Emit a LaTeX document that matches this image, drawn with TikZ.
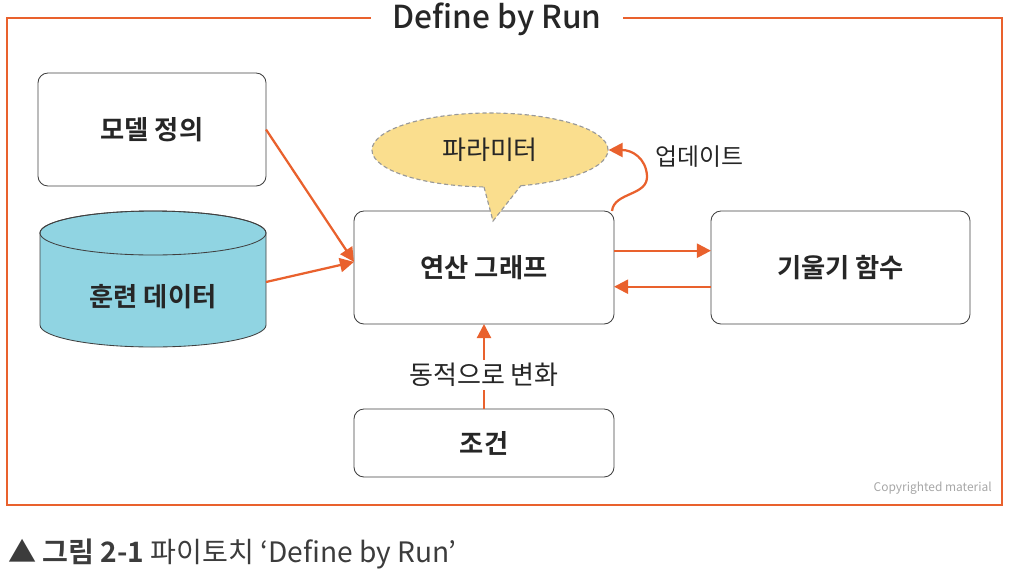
\documentclass[tikz,border=0pt]{standalone}
\usepackage{fontspec}
\setmainfont{Noto Sans CJK KR}[BoldFont={Noto Sans CJK KR Bold}]
\newfontfamily\krmed{Noto Sans CJK KR Medium}
\usetikzlibrary{arrows.meta,shapes.geometric}
\definecolor{runorange}{RGB}{233,97,45}
\definecolor{cylblue}{RGB}{144,212,226}
\definecolor{bubbleyellow}{RGB}{250,222,142}
\definecolor{captiongray}{RGB}{60,60,60}
\begin{document}
\begin{tikzpicture}[x=0.025cm,y=-0.025cm,
  every node/.style={font=\fontsize{18.5}{22}\selectfont,text=black!85},
  box/.style={draw=black!75,line width=0.6pt,rounded corners=0.25cm,minimum height=2.825cm,inner sep=0pt,outer sep=0pt,font=\fontsize{18.7}{22}\bfseries},
  flow/.style={draw=runorange,line width=1.6pt,-{Triangle[length=10pt,width=10pt]}}]
\useasboundingbox (0,0) rectangle (1010,572);
\draw[runorange,line width=1.4pt] (7,18) rectangle (1002,505);
\node[fill=white,anchor=base,inner xsep=0.55cm,font=\fontsize{22.5}{27}\krmed] (title) at (497,28) {Define by Run};
\node[box,minimum width=5.7cm] (model) at (152,129.5) {모델 정의};
\path[fill=cylblue,draw=black!75,line width=0.6pt] (40,233) -- (40,325) arc[start angle=180,end angle=360,x radius=2.825cm,y radius=0.55cm] -- (266,233) arc[start angle=0,end angle=180,x radius=2.825cm,y radius=0.55cm] -- cycle;
\draw[black!75,line width=0.6pt] (153,233) ellipse[x radius=2.825cm,y radius=0.55cm];
\node[minimum width=5.65cm,inner sep=0pt,outer sep=0pt,font=\fontsize{18.7}{22}\bfseries] (data) at (153,297) {훈련 데이터};
\node[box,minimum width=6.5cm] (graph) at (484,267.5) {연산 그래프};
\node[box,minimum width=6.475cm] (grad) at (840.5,267.5) {기울기 함수};
\node[box,minimum width=6.5cm,minimum height=1.7cm] (cond) at (484,443) {조건};
\node[ellipse,draw=gray!80,dash pattern=on 3pt off 2pt,line width=0.8pt,fill=bubbleyellow,minimum width=5.9cm,minimum height=1.85cm,inner sep=0pt] (param) at (490,150) {파라미터};
\fill[bubbleyellow] (482,181) -- (484,187) -- (493,221) -- (521,185.5) -- (524,180) -- cycle;
\draw[gray!80,dash pattern=on 3pt off 2pt,line width=0.8pt] (484,187) -- (493,221) -- (521,185.5);
\draw[flow] ([xshift=-0.05cm]graph.north east) .. controls (614,192) and (648,196) .. (647,176) .. controls (646,158) and (632,150) .. (param.east);
\node[anchor=west,font=\fontsize{17}{20}\selectfont] (update) at (651,157) {업데이트};
\draw[flow] (model.east) -- ([yshift=0.14cm]graph.west);
\draw[flow] ([yshift=0.375cm]data.east) -- ([yshift=0.14cm]graph.west);
\draw[flow] ([yshift=0.42cm]graph.east) -- ([yshift=0.42cm]grad.west);
\draw[flow] ([yshift=-0.48cm]grad.west) -- ([yshift=-0.48cm]graph.east);
\draw[flow] (cond.north) -- node[pos=0.4,fill=white,inner sep=2pt] (dynamic) {동적으로 변화} (graph.south);
\node[anchor=base east,text=black!35,font=\fontsize{8.5}{10}\selectfont,inner sep=0pt] (copyright) at (992,491) {Copyrighted material};
\node[anchor=base west,text=captiongray,font=\fontsize{20}{24}\selectfont,inner sep=0pt] (caption) at (8,562) {\textbf{▲ 그림 2-1} 파이토치 ‘Define by Run’};
\end{tikzpicture}
\end{document}
